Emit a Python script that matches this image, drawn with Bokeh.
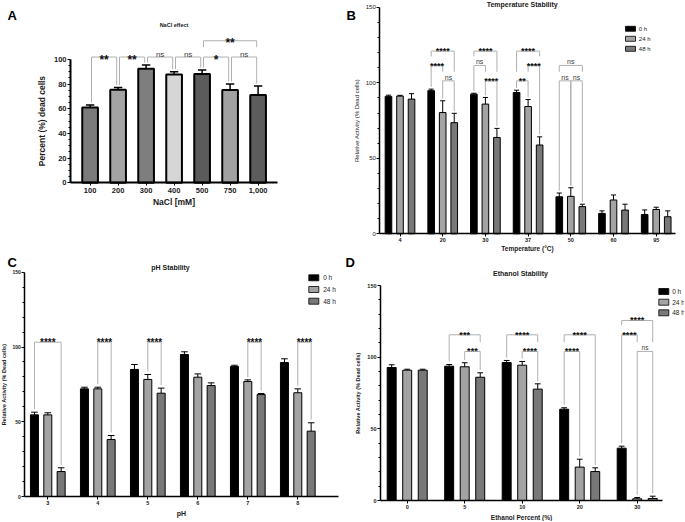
import math
from bokeh.plotting import figure
from bokeh.models import Range1d, FixedTicker
from bokeh.layouts import row, column
from bokeh.embed import file_html
from bokeh.resources import INLINE
from bokeh.core.properties import value

FONT = "Liberation Sans"
INK = "#1a1a1a"
BRACKET = "#b0b0b0"

# ---------------- Panel A : NaCl effect ----------------
nacl_labels = ["100", "200", "300", "400", "500", "750", "1,000"]
nacl_mean = [61.0, 75.5, 92.5, 87.8, 88.2, 75.2, 71.2]
nacl_err = [2.0, 1.8, 3.0, 2.3, 3.3, 5.0, 7.3]
nacl_colors = ["#7b7b7b", "#a3a3a3", "#7e7e7e", "#d6d6d6", "#5b5b5b", "#a1a1a1", "#5c5c5c"]
nacl_sig = [(0, 1, "**", 102.0), (1, 2, "**", 102.0), (2, 3, "ns", 102.0),
            (3, 4, "ns", 102.0), (4, 5, "*", 102.0), (5, 6, "ns", 102.0),
            (4, 6, "**", 115.2)]

# ---------------- shared series ----------------
time_labels = ["0 h", "24 h", "48 h"]
time_colors = ["#000000", "#a3a3a3", "#787878"]

# ---------------- Panel B : Temperature Stability ----------------
temp_labels = ["4", "20", "30", "37", "50", "60", "95"]
temp_0h = [91.0, 94.8, 92.5, 93.6, 24.5, 13.5, 12.8]
temp_0h_err = [0.8, 1.0, 0.6, 1.5, 2.5, 1.7, 3.0]
temp_24h = [91.2, 80.3, 85.9, 84.3, 24.8, 22.4, 16.1]
temp_24h_err = [0.5, 7.8, 4.4, 4.6, 5.7, 3.3, 1.5]
temp_48h = [89.2, 73.6, 63.8, 58.8, 18.0, 15.7, 11.3]
temp_48h_err = [3.6, 6.2, 6.0, 5.4, 1.6, 3.9, 3.9]
temp_sig = [(1, 0, 2, "****", 121.0), (1, 0, 1, "****", 111.5), (1, 1, 2, "ns", 101.3),
            (2, 0, 2, "****", 121.0), (2, 0, 1, "ns", 111.5), (2, 1, 2, "****", 101.3),
            (3, 0, 2, "****", 121.0), (3, 1, 2, "****", 111.5), (3, 0, 1, "**", 101.3),
            (4, 0, 2, "ns", 111.5), (4, 0, 1, "ns", 101.3), (4, 1, 2, "ns", 101.3)]

# ---------------- Panel C : pH Stability ----------------
ph_labels = ["3", "4", "5", "6", "7", "8"]
ph_0h = [54.6, 72.0, 85.0, 95.0, 87.0, 89.6]
ph_0h_err = [1.8, 1.1, 3.3, 1.8, 0.8, 2.5]
ph_24h = [54.6, 72.0, 78.3, 79.8, 76.9, 69.4]
ph_24h_err = [1.4, 1.1, 3.3, 2.2, 1.1, 2.6]
ph_48h = [16.7, 38.1, 69.1, 74.2, 68.2, 43.7]
ph_48h_err = [2.5, 2.7, 3.4, 1.8, 0.7, 5.6]
ph_sig = [(0, 0, 2, "****", 103.2), (1, 1, 2, "****", 103.2), (2, 1, 2, "****", 103.2),
          (4, 1, 2, "****", 103.2), (5, 1, 2, "****", 103.2)]

# ---------------- Panel D : Ethanol Stability ----------------
eth_labels = ["0", "5", "10", "20", "30"]
eth_0h = [92.8, 93.7, 96.3, 63.7, 36.5]
eth_0h_err = [1.9, 1.2, 1.4, 1.0, 1.4]
eth_24h = [90.9, 93.3, 94.4, 23.3, 1.2]
eth_24h_err = [0.7, 2.8, 2.6, 5.5, 0.9]
eth_48h = [90.9, 86.0, 77.7, 20.2, 1.4]
eth_48h_err = [0.7, 3.1, 3.7, 2.6, 1.6]
eth_sig = [(1, 0, 2, "***", 115.6), (1, 1, 2, "***", 104.0),
           (2, 0, 2, "****", 115.6), (2, 1, 2, "****", 104.0),
           (3, 0, 2, "****", 115.6), (3, 0, 1, "****", 104.0),
           (4, 0, 2, "****", 125.6), (4, 0, 1, "****", 115.6), (4, 1, 2, "ns", 104.0)]


# ---------------- helpers ----------------
def make_fig(px0, py0, w, h, x_ref, sx, y_ref, sy):
    """Figure whose frame fills the whole canvas; x_ref/y_ref = page px of data (0, 0)."""
    xr = ((px0 - x_ref) / sx, (px0 + w - x_ref) / sx)
    yr = ((y_ref - (py0 + h)) / sy, (y_ref - py0) / sy)
    p = figure(width=w, height=h, min_border_left=0, min_border_right=0,
               min_border_top=0, min_border_bottom=0,
               x_range=Range1d(*xr), y_range=Range1d(*yr),
               toolbar_location=None, output_backend="svg", title=None)
    p.xgrid.visible = False
    p.ygrid.visible = False
    p.outline_line_color = None
    p.background_fill_color = "white"
    p.border_fill_color = "white"
    return p, dict(x_ref=x_ref, sx=sx, y_ref=y_ref, sy=sy)


def to_data(g, ax, ay):
    return (ax - g["x_ref"]) / g["sx"], (g["y_ref"] - ay) / g["sy"]


def txt(p, g, ax, ay, s, size, bold=False, angle=0.0, align="center",
        baseline="middle", color=INK):
    x, y = to_data(g, ax, ay)
    p.text(x=[x], y=[y], text=[s], text_font=value(FONT), text_font_size=f"{size}px",
           text_font_style="bold" if bold else "normal", text_align=align,
           text_baseline=baseline, angle=angle, text_color=color)


def style_axes(p, xloc, xend, xticks, xlabels, ybounds, ymajor, yminor, axis_w,
               xfs, xbold, yfs, ybold, xstand, ystand):
    xa, ya = p.xaxis[0], p.yaxis[0]
    xa.fixed_location = 0
    ya.fixed_location = xloc
    xa.bounds = (xloc, xend)
    ya.bounds = ybounds
    xa.ticker = FixedTicker(ticks=xticks, minor_ticks=[])
    xa.major_label_overrides = {t: s for t, s in zip(xticks, xlabels)}
    ya.ticker = FixedTicker(ticks=ymajor, minor_ticks=yminor)
    for ax, fs, bold, st in ((xa, xfs, xbold, xstand), (ya, yfs, ybold, ystand)):
        ax.axis_line_color = "black"
        ax.axis_line_width = axis_w
        ax.major_tick_line_color = "black"
        ax.major_tick_line_width = 1
        ax.minor_tick_line_color = "black"
        ax.minor_tick_line_width = 1
        ax.major_tick_in = 0
        ax.major_tick_out = 3
        ax.minor_tick_in = 0
        ax.minor_tick_out = 2
        ax.major_label_text_font = FONT
        ax.major_label_text_font_size = f"{fs}px"
        ax.major_label_text_font_style = "bold" if bold else "normal"
        ax.major_label_text_color = INK
        ax.major_label_standoff = st
        ax.axis_label_text_font = FONT
        ax.axis_label_text_color = INK


def axis_titles(p, xlab, xfs, xst, ylab, yfs, yst, ybold=True):
    p.xaxis.axis_label = xlab
    p.xaxis.axis_label_text_font_size = f"{xfs}px"
    p.xaxis.axis_label_text_font_style = "bold"
    p.xaxis.axis_label_standoff = xst
    p.yaxis.axis_label = ylab
    p.yaxis.axis_label_text_font_size = f"{yfs}px"
    p.yaxis.axis_label_text_font_style = "bold" if ybold else "normal"
    p.yaxis.axis_label_standoff = yst


def draw_errbars(p, xs, means, errs, cap, lw):
    tops = [m + e for m, e in zip(means, errs)]
    p.segment(x0=xs, y0=means, x1=xs, y1=tops, line_color="black", line_width=lw)
    p.segment(x0=[x - cap for x in xs], y0=tops, x1=[x + cap for x in xs], y1=tops,
              line_color="black", line_width=lw)
    return tops


def draw_grouped(p, series, errs, offset, width, cap, lw):
    bars = {}
    for s, (m, e, c) in enumerate(zip(series, errs, time_colors)):
        xs = [g + (s - 1) * offset for g in range(len(m))]
        p.vbar(x=xs, top=m, bottom=0, width=width, fill_color=c,
               line_color="black", line_width=lw)
        tops = draw_errbars(p, xs, m, e, cap, lw)
        for g, (x, t) in enumerate(zip(xs, tops)):
            bars[(g, s)] = (x, t)
    return bars


def draw_sig(p, bars, sigs, gap, text_gap, d, ast_fs, ns_fs, ast_off, ns_off):
    xs_l, ys_l = [], []
    ast = dict(x=[], y=[], t=[])
    ns = dict(x=[], y=[], t=[])
    for (k1, k2, label, lvl) in sigs:
        def bottom(k):
            xk = bars[k][0]
            c = [bars[k][1] + gap]
            for (m1, m2, _t, l2) in sigs:
                if l2 < lvl and bars[m1][0] - 1e-9 <= xk <= bars[m2][0] + 1e-9:
                    c.append(l2 + text_gap)
            return min(max(c), lvl)
        x1, x2 = bars[k1][0] + d, bars[k2][0] - d
        xs_l.append([x1, x1, x2, x2])
        ys_l.append([bottom(k1), lvl, lvl, bottom(k2)])
        tgt = ns if label == "ns" else ast
        tgt["x"].append((bars[k1][0] + bars[k2][0]) / 2)
        tgt["y"].append(lvl)
        tgt["t"].append(label)
    p.multi_line(xs_l, ys_l, line_color=BRACKET, line_width=1)
    if ast["x"]:
        p.text(x=ast["x"], y=ast["y"], text=ast["t"], text_font=value(FONT),
               text_font_size=f"{ast_fs}px", text_font_style="bold", text_color="#111111",
               text_align="center", text_baseline="alphabetic", y_offset=ast_off)
    if ns["x"]:
        p.text(x=ns["x"], y=ns["y"], text=ns["t"], text_font=value(FONT),
               text_font_size=f"{ns_fs}px", text_color="#3c3c3c",
               text_align="center", text_baseline="alphabetic", y_offset=ns_off)


def draw_legend(p, g, sw_x, rows_y, text_x, fs, sw_w, sw_h):
    for (py, lab, col) in zip(rows_y, time_labels, time_colors):
        dx, dy = to_data(g, sw_x, py)
        p.rect(x=[dx], y=[dy], width=sw_w, height=sw_h, width_units="screen",
               height_units="screen", fill_color=col, line_color="black", line_width=0.8)
        txt(p, g, text_x, py, lab, fs, align="left")


def pair_sigs(sigs):
    return [((g, a), (g, b), t, l) for (g, a, b, t, l) in sigs]


YMINOR = [v for v in range(0, 151, 10) if v % 50]

# ================= Panel A =================
pA, gA = make_fig(0, 0, 340, 255, 89.6, 28.0, 182.3, 1.233)
xA = list(range(len(nacl_labels)))
pA.vbar(x=xA, top=nacl_mean, bottom=0, width=0.56, fill_color=nacl_colors,
        line_color="black", line_width=2)
topsA = draw_errbars(pA, xA, nacl_mean, nacl_err, 0.15, 1.5)
barsA = {i: (x, t) for i, (x, t) in enumerate(zip(xA, topsA))}
draw_sig(pA, barsA, nacl_sig, gap=2.0, text_gap=8.0, d=0.05, ast_fs=12, ns_fs=8,
         ast_off=2.5, ns_off=-2.9)
style_axes(pA, -0.70, 6.69, xA, nacl_labels, (0, 100), [0, 20, 40, 60, 80, 100],
           [v for v in range(0, 101, 5) if v % 20], 2, 7.5, True, 7.5, True, 2, 1)
axis_titles(pA, "NaCl [mM]", 8.5, 1, "Percent (%) dead cells", 8.5, 4)
txt(pA, gA, 173.5, 24.5, "NaCl effect", 5.5, bold=True)
txt(pA, gA, 7, 14.5, "A", 13, bold=True, align="left", color="black")

# ================= Panel B =================
pB, gB = make_fig(340, 0, 344, 255, 399.5, 42.7, 233.3, 1.51)
barsB = draw_grouped(pB, [temp_0h, temp_24h, temp_48h],
                     [temp_0h_err, temp_24h_err, temp_48h_err], 0.27, 0.155, 0.06, 1)
draw_sig(pB, barsB, pair_sigs(temp_sig), gap=1.5, text_gap=6.0, d=0.0,
         ast_fs=9, ns_fs=7, ast_off=0.2, ns_off=-3.5)
style_axes(pB, -0.473, 6.45, list(range(len(temp_labels))), temp_labels, (0, 150),
           [0, 50, 100, 150], YMINOR, 1.5, 5.5, True, 6, False, 1, 1)
axis_titles(pB, "Temperature (°C)", 6.5, 0, "Relative Activity (% Dead cells)", 6, 2,
            ybold=False)
txt(pB, gB, 521.7, 4.0, "Temperature Stability", 7, bold=True)
txt(pB, gB, 346, 14.5, "B", 13, bold=True, align="left", color="black")
draw_legend(pB, gB, 630, [28.3, 38.3, 48.3], 638.3, 6, 10, 5)

# ================= Panel C =================
pC, gC = make_fig(0, 255, 340, 266, 47.3, 50.0, 496.0, 1.495)
barsC = draw_grouped(pC, [ph_0h, ph_24h, ph_48h],
                     [ph_0h_err, ph_24h_err, ph_48h_err], 0.267, 0.16, 0.066, 1)
draw_sig(pC, barsC, pair_sigs(ph_sig), gap=2.0, text_gap=6.5, d=0.0,
         ast_fs=10, ns_fs=7, ast_off=0.75, ns_off=-3.5)
style_axes(pC, -0.46, 5.82, list(range(len(ph_labels))), ph_labels, (0, 150),
           [0, 50, 100, 150], YMINOR, 1.5, 5.5, True, 5, True, 1, 1)
axis_titles(pC, "pH", 7, 2, "Relative Activity (% Dead cells)", 5.5, 2)
txt(pC, gC, 170, 266.7, "pH Stability", 7, bold=True)
txt(pC, gC, 7, 261.5, "C", 13, bold=True, align="left", color="black")
draw_legend(pC, gC, 313.3, [277.3, 289.0, 300.7], 322.7, 6.5, 10, 6)

# ================= Panel D =================
pD, gD = make_fig(340, 255, 344, 266, 406.7, 57.5, 500.0, 1.4333)
barsD = draw_grouped(pD, [eth_0h, eth_24h, eth_48h],
                     [eth_0h_err, eth_24h_err, eth_48h_err], 0.27, 0.156, 0.05, 1)
draw_sig(pD, barsD, pair_sigs(eth_sig), gap=2.0, text_gap=6.5, d=0.0,
         ast_fs=9.2, ns_fs=6.5, ast_off=0.0, ns_off=-3.6)
style_axes(pD, -0.464, 4.435, list(range(len(eth_labels))), eth_labels, (0, 150),
           [0, 50, 100, 150], YMINOR, 1.5, 5.5, True, 5.5, True, 1, 1)
axis_titles(pD, "Ethanol Percent (%)", 6.5, 2, "Relative Activity (% Dead cells)", 5.5, 3)
txt(pD, gD, 520, 273, "Ethanol Stability", 7, bold=True)
txt(pD, gD, 345, 261.5, "D", 13, bold=True, align="left", color="black")
draw_legend(pD, gD, 663.3, [291.0, 301.7, 312.3], 671.7, 6.5, 10, 6)

layout = column(row(pA, pB), row(pC, pD))
open("out.html", "w").write(file_html(layout, INLINE))
